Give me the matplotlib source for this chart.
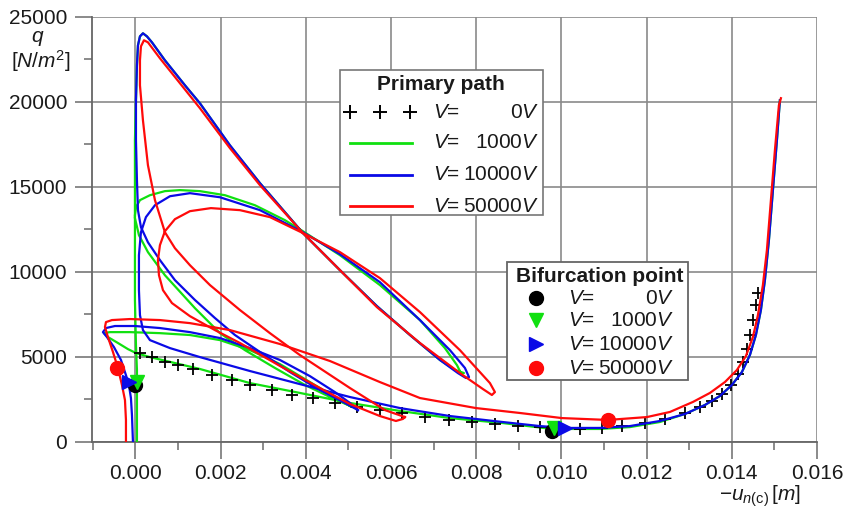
import numpy as np
import matplotlib
matplotlib.use("Agg")
import matplotlib.pyplot as plt
from matplotlib.lines import Line2D
from matplotlib.patches import Rectangle

plt.rcParams['font.family'] = ['Liberation Sans', 'DejaVu Sans']
plt.rcParams['mathtext.fontset'] = 'custom'
plt.rcParams['mathtext.rm'] = 'Liberation Sans'
plt.rcParams['mathtext.it'] = 'Liberation Sans:italic'
plt.rcParams['mathtext.bf'] = 'Liberation Sans:bold'

nan = np.nan
# ---------------- data (u in mm, q in N/m^2) ----------------
# V = 1000 V (green)
green1_u = [0.035, 0.035, 0.035, 0.012, -0.012, -0.012, -0.012, 0.012, 0.106, 0.340,
            0.692, 1.045, 1.514, 2.101, 2.805, 3.509, 3.932, 4.800, 5.739, 6.679,
            7.265, 7.547, 7.641, 7.711, 7.500, 7.148, 6.444, 5.669, 4.800, 3.932,
            2.923, 2.218, 1.514, 1.162, 0.692, 0.387, 0.270, 0.176, 0.106, 0.059,
            0.035, 0.012, -0.012, -0.012]
green1_q = [0, 2450, 4220, 5690, 8340, 11280, 13330, 13800, 14220, 14510,
            14750, 14810, 14750, 14510, 13920, 13040, 12390, 10980, 9220, 7160,
            5510, 4510, 4040, 4040, 4220, 4810, 6280, 7980, 10100, 12280,
            15220, 17440, 19920, 20980, 22450, 23510, 23860, 24040, 23860, 23330,
            22160, 20100, 17750, 13300]
green2_u = [-0.012, 0.082, 0.293, 0.692, 1.397, 1.984, 2.570, 3.275, 3.979, 4.566,
            4.988, 5.082, 4.800, 4.096, 3.392, 2.688, 1.984, 1.279, 0.575, -0.129,
            -0.599, -0.739, -0.646, -0.411, -0.176, 0.012, 0.340, 1.514, 2.688, 3.861,
            5.035, 6.209, 7.383, 8.615, 9.777, 10.904, 11.608, 12.312, 12.899, 13.368,
            13.720, 14.002, 14.237, 14.425, 14.566, 14.683, 14.777, 14.871, 14.965, 15.059,
            15.129]
green2_q = [13160, 12160, 11160, 9800, 7860, 6390, 5390, 4340, 3340, 2630,
            2160, 2040, 2450, 3510, 4570, 5390, 5980, 6280, 6390, 6450,
            6450, 6390, 6160, 5810, 5450, 5220, 4980, 4280, 3450, 2870,
            2280, 1810, 1390, 1100, 750, 750, 860, 1160, 1630, 2160,
            2690, 3340, 4100, 5100, 6280, 7750, 9510, 11860, 14810, 17750,
            20100]

# V = 10000 V (blue)
blue1_u = [-0.059, -0.082, -0.106, -0.153, -0.223, -0.340, -0.505, -0.669, -0.763, -0.692,
           -0.481, -0.012, 0.575, 1.279, 1.984, 2.688, 3.392, 4.096, 4.683, 5.035,
           5.223]
blue1_q = [0, 1570, 2570, 3340, 3920, 4810, 5570, 6160, 6450, 6690,
           6810, 6810, 6690, 6450, 6100, 5510, 4810, 3860, 2920, 2280,
           1860]
blue2_u = [5.223, 4.918, 4.331, 3.627, 2.923, 2.336, 1.866, 1.397, 0.927, 0.575,
           0.293, 0.129, 0.059, 0.035, 0.012, 0.012, 0.035, 0.059, 0.106, 0.176,
           0.270, 0.387, 0.692, 1.162, 1.514, 2.218, 2.923, 3.932, 4.800, 5.669,
           6.444, 7.148, 7.570, 7.758, 7.831, 7.735, 7.383, 6.679, 5.739, 4.800,
           3.932, 2.923, 1.984, 1.279, 0.810, 0.458, 0.246, 0.129, 0.082, 0.082,
           0.106, 0.176, 0.340, 0.810, 1.514, 2.688, 3.861, 5.035, 6.209, 7.383,
           8.615, 9.495, 10.082, 10.904, 11.608, 12.312, 12.899, 13.368, 13.720, 14.002,
           14.237, 14.425, 14.566, 14.683, 14.777, 14.871, 14.965, 15.059, 15.129]
blue2_q = [1860, 2280, 3040, 4100, 5280, 6280, 7280, 8340, 9510, 10690,
           11740, 12630, 13630, 15390, 17750, 20100, 22160, 23330, 23860, 24040,
           23860, 23510, 22450, 20980, 19920, 17450, 15220, 12280, 10100, 7980,
           6280, 4810, 4040, 3750, 3800, 4340, 5390, 7160, 9390, 11040,
           12330, 13630, 14390, 14630, 14450, 13920, 13220, 12330, 10980, 8920,
           7450, 6570, 5980, 5510, 4980, 4160, 3390, 2630, 1980, 1510,
           1160, 920, 810, 810, 920, 1220, 1630, 2160, 2690, 3340,
           4100, 5100, 6280, 7750, 9510, 11860, 14810, 17750, 20100]

# V = 50000 V (red)
red1_u = [-0.223, -0.223, -0.246, -0.317, -0.411, -0.528, -0.646, -0.716, -0.692, -0.552,
          -0.129, 0.575, 1.279, 2.218, 3.392, 4.566, 5.739, 6.679, 7.993, 9.026,
          10.012, 11.092, 12.007, 12.547, 13.087, 13.486, 13.838, 14.120, 14.331, 14.495,
          14.613, 14.730, 14.824, 14.918, 15.012, 15.106, 15.153]
red1_q = [0, 1280, 2450, 3340, 4330, 5280, 6160, 6750, 7040, 7160,
          7220, 7160, 6980, 6570, 5750, 4750, 3510, 2570, 1980, 1690,
          1390, 1280, 1450, 1750, 2340, 2870, 3510, 4220, 5040, 6160,
          7450, 9220, 11280, 14220, 17160, 19810, 20220]
red2_u = [6.326, 5.857, 5.035, 3.861, 3.157, 2.453, 1.749, 1.279, 0.927, 0.692,
          0.458, 0.293, 0.176, 0.106, 0.106, 0.129, 0.200, 0.293, 0.575, 1.045,
          1.514, 2.218, 2.923, 3.932, 4.800, 5.669, 6.679, 7.617, 8.157, 8.368,
          8.439, 8.322, 7.617, 6.679, 5.739, 4.800, 3.932, 3.157, 2.453, 1.772,
          1.279, 0.927, 0.692, 0.575, 0.528, 0.552, 0.646, 0.857, 1.279, 1.866,
          2.453, 3.392, 4.331, 5.035, 5.739, 6.115, 6.279, 6.326]
red2_q = [1450, 1860, 3160, 5100, 6390, 7750, 9220, 10390, 11390, 12330,
          14220, 16280, 18920, 20980, 22450, 23270, 23630, 23510, 22570, 21100,
          19630, 17280, 15100, 12280, 10100, 7920, 5810, 4040, 3100, 2750,
          2920, 3450, 5390, 7630, 9630, 11160, 12280, 13220, 13630, 13750,
          13570, 13100, 12390, 11570, 10690, 9800, 8920, 8160, 7390, 6570,
          5810, 4460, 3160, 2220, 1510, 1220, 1340, 1450]

# V = 0 V primary path (crosses)
v0_u = [0.106, 0.387, 0.692, 0.998, 1.350, 1.796, 2.265, 2.688, 3.204, 3.674,
        4.167, 4.683, 5.200, 5.739, 6.256, 6.796, 7.359, 7.899, 8.439, 8.979,
        9.495, 10.434, 10.951, 11.420, 11.960, 12.430, 12.899, 13.251, 13.533, 13.768,
        13.979, 14.143, 14.261, 14.355, 14.425, 14.495, 14.566, 14.613]
v0_q = [5220, 4980, 4690, 4510, 4280, 3920, 3630, 3340, 3040, 2750,
        2570, 2280, 2040, 1860, 1690, 1450, 1280, 1160, 1040, 920,
        860, 750, 810, 920, 1100, 1340, 1690, 2040, 2390, 2810,
        3340, 3980, 4690, 5450, 6280, 7160, 8040, 8750]

# bifurcation points
bif_black_u, bif_black_q = [0.000, 9.777], [3340, 630]
bif_green_u, bif_green_q = [0.035, 9.824], [3510, 810]
bif_blue_u, bif_blue_q = [-0.153, 10.082], [3510, 810]
bif_red_u, bif_red_q = [-0.434, 11.092], [4330, 1280]

xticks = [0.000, 0.002, 0.004, 0.006, 0.008, 0.010, 0.012, 0.014, 0.016]
xticklabels = ['0.000', '0.002', '0.004', '0.006', '0.008', '0.010', '0.012', '0.014', '0.016']
yticks = [0, 5000, 10000, 15000, 20000, 25000]
yticklabels = ['0', '5000', '10000', '15000', '20000', '25000']
legend_values = ['0', '1000', '10000', '50000']

GREEN = '#10e010'
BLUE = '#0a0ae6'
RED = '#ff0a0a'

def m(a):
    return np.asarray(a, dtype=float) * 1e-3

W, H = 847, 513
fig = plt.figure(figsize=(W / 100, H / 100), dpi=100)
ax = fig.add_axes([92 / W, 1 - 441.7 / H, (817 - 92) / W, (441.7 - 17) / H])

lw = 1.6
ax.plot(m(green1_u), green1_q, color=GREEN, lw=lw, zorder=3)
ax.plot(m(green2_u), green2_q, color=GREEN, lw=lw, zorder=3)
ax.plot(m(v0_u), v0_q, ls='none', marker='+', ms=8, mew=1.3, color='black', zorder=4)
ax.plot(m(blue1_u), blue1_q, color=BLUE, lw=lw, zorder=5)
ax.plot(m(blue2_u), blue2_q, color=BLUE, lw=lw, zorder=5)
ax.plot(m(red1_u), red1_q, color=RED, lw=lw, zorder=6)
ax.plot(m(red2_u), red2_q, color=RED, lw=lw, zorder=6)

ms = 10
ax.plot(m(bif_black_u), bif_black_q, 'o', color='black', ms=ms, zorder=7)
ax.plot(m(bif_green_u), bif_green_q, 'v', color=GREEN, ms=ms, zorder=8)
ax.plot(m(bif_blue_u), bif_blue_q, '>', color=BLUE, ms=ms, zorder=9)
ax.plot(m(bif_red_u), bif_red_q, 'o', color=RED, ms=ms, zorder=10)

ax.set_xlim(-0.00102, 0.016)
ax.set_ylim(0, 25000)
ax.set_xticks(xticks)
ax.set_xticklabels(xticklabels)
ax.set_xticks(np.arange(-0.001, 0.0161, 0.001), minor=True)
ax.set_yticks(yticks)
ax.set_yticklabels(yticklabels)
ax.set_yticks(np.arange(0, 25001, 2500), minor=True)
ax.grid(True, which='major', color='#8a8a8a', lw=1.2)
ax.set_axisbelow(True)
for s in ['top', 'right']:
    ax.spines[s].set_visible(False)
for s in ['left', 'bottom']:
    ax.spines[s].set_color('#666666')
    ax.spines[s].set_linewidth(1.3)
ax.tick_params(which='major', direction='out', length=12, width=1.2, color='#777777',
               labelsize=15, labelcolor='#1a1a1a')
ax.tick_params(which='minor', direction='out', length=6, width=1.2, color='#777777')
ax.tick_params(axis='y', which='major', pad=6)
ax.tick_params(axis='x', which='major', pad=4)

def fx(px):
    return px / W

def fy(py):
    return 1 - py / H

# axis labels
fig.text(fx(38), fy(38), r'$q$', fontsize=15, ha='center', va='center', color='#1a1a1a')
fig.text(fx(41), fy(61), r'[$N$/$m^2$]', fontsize=15, ha='center', va='center', color='#1a1a1a')
fig.text(fx(760), fy(501), r'$-u_{n(\mathrm{c})}\,[m]$', fontsize=15, ha='center', va='baseline',
         color='#1a1a1a')

# ---------------- legend 1: primary path ----------------
fig.patches.append(Rectangle((fx(340), fy(215)), (543 - 340) / W, (215 - 70) / H,
                             transform=fig.transFigure, fc='white', ec='#777777', lw=1.2, zorder=20))
fig.text(fx(441), fy(85), 'Primary path', fontsize=15, fontweight='bold', ha='center', va='center',
         zorder=21, color='#1a1a1a')
rows1 = [112, 143, 175, 206]
fig.add_artist(Line2D([fx(350), fx(380), fx(410)], [fy(rows1[0])] * 3, transform=fig.transFigure,
                      ls='none', marker='+', ms=10, mew=1.4, color='black', zorder=21))
for py, c in zip(rows1[1:], [GREEN, BLUE, RED]):
    fig.add_artist(Line2D([fx(350), fx(412)], [fy(py)] * 2, transform=fig.transFigure,
                          color=c, lw=2, zorder=21))
for py, val in zip(rows1, legend_values):
    fig.text(fx(433), fy(py), r'$V$=', fontsize=15, ha='left', va='center', zorder=21, color='#1a1a1a')
    fig.text(fx(539), fy(py), val + r'$V$', fontsize=15, ha='right', va='center', zorder=21, color='#1a1a1a')

# ---------------- legend 2: bifurcation point ----------------
fig.patches.append(Rectangle((fx(507), fy(380)), (688 - 507) / W, (380 - 262) / H,
                             transform=fig.transFigure, fc='white', ec='#666666', lw=1.3, zorder=20))
fig.text(fx(600), fy(277), 'Bifurcation point', fontsize=15, fontweight='bold', ha='center',
         va='center', zorder=21, color='#1a1a1a')
rows2 = [298, 320, 344, 368]
for py, mk, c in zip(rows2, ['o', 'v', '>', 'o'], ['black', GREEN, BLUE, RED]):
    fig.add_artist(Line2D([fx(536)], [fy(py)], transform=fig.transFigure, ls='none',
                          marker=mk, ms=ms, color=c, zorder=21))
for py, val in zip(rows2, legend_values):
    fig.text(fx(568), fy(py), r'$V$=', fontsize=15, ha='left', va='center', zorder=21, color='#1a1a1a')
    fig.text(fx(674), fy(py), val + r'$V$', fontsize=15, ha='right', va='center', zorder=21, color='#1a1a1a')

fig.savefig('out.png', dpi=100)
